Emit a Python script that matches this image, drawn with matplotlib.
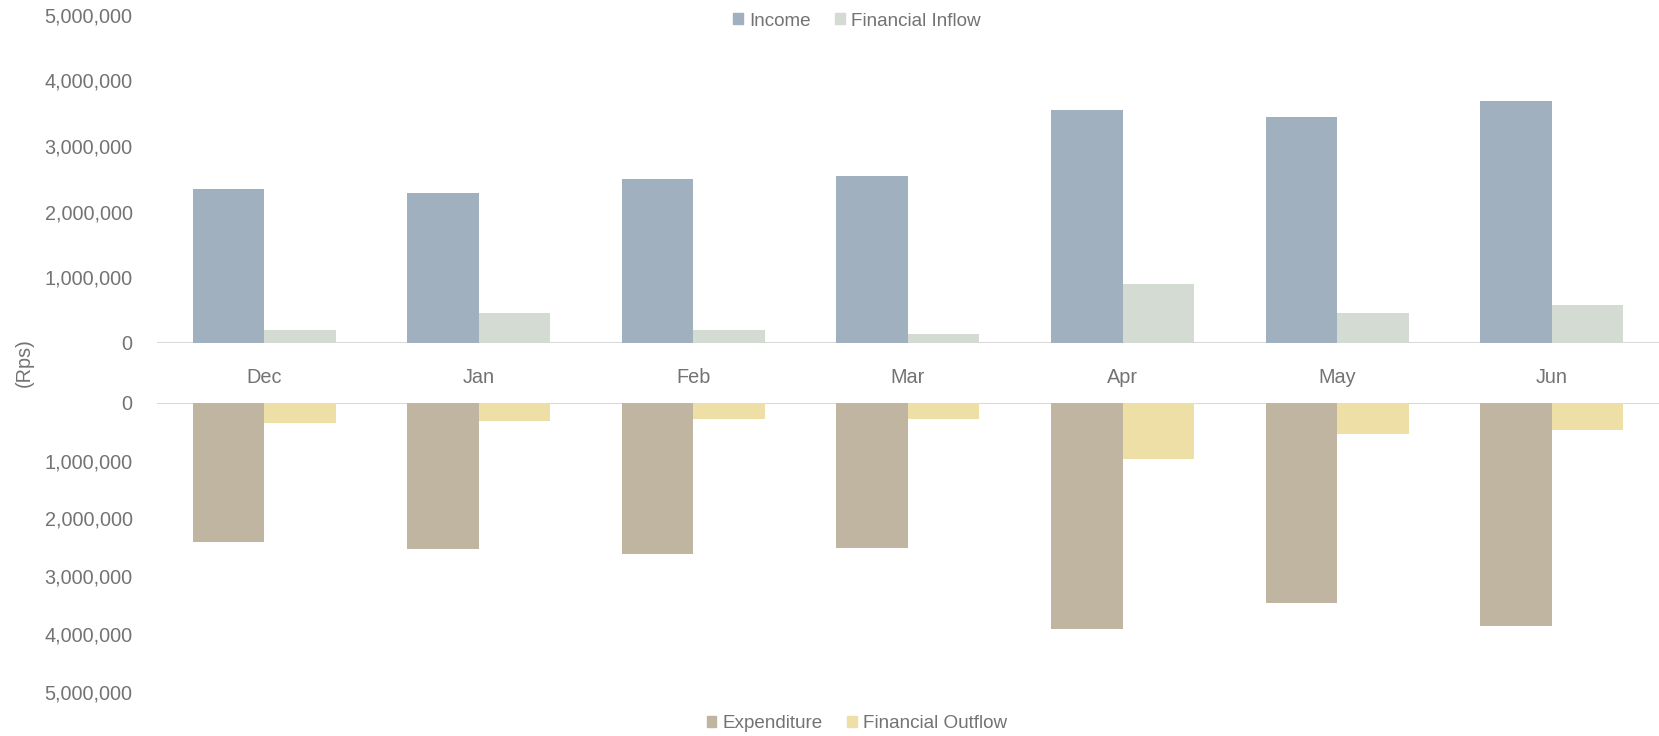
import matplotlib
matplotlib.use("Agg")
import matplotlib.pyplot as plt
from matplotlib.ticker import FuncFormatter
from matplotlib.patches import Patch
import numpy as np

months = ["Dec", "Jan", "Feb", "Mar", "Apr", "May", "Jun"]
income = [2350000, 2290000, 2500000, 2540000, 3550000, 3440000, 3680000]
financial_inflow = [200000, 460000, 190000, 140000, 890000, 460000, 570000]
expenditure = [2410000, 2530000, 2620000, 2510000, 3910000, 3460000, 3860000]
financial_outflow = [350000, 320000, 290000, 290000, 970000, 540000, 470000]
yticks = [0, 1000000, 2000000, 3000000, 4000000, 5000000]

c_income = "#A1B0BF"
c_inflow = "#D3DBD2"
c_exp = "#BFB5A1"
c_out = "#EDDFA6"
txt = "#737373"
line_c = "#d9d9d9"

plt.rcParams['font.family'] = ['Liberation Sans', 'DejaVu Sans']
fs = 14.3
fs_leg = 13.6

fig = plt.figure(figsize=(16.59, 7.36), dpi=100)
ax_top = fig.add_axes([0.0946, 0.5342, 0.9054, 0.4457])
ax_bot = fig.add_axes([0.0946, 0.0598, 0.9054, 0.3931])

x = np.arange(len(months))
w = 1 / 3

ax_top.bar(x - w / 2, income, width=w, color=c_income, label="Income")
ax_top.bar(x + w / 2, financial_inflow, width=w, color=c_inflow, label="Financial Inflow")
ax_bot.bar(x - w / 2, expenditure, width=w, color=c_exp, label="Expenditure")
ax_bot.bar(x + w / 2, financial_outflow, width=w, color=c_out, label="Financial Outflow")

fmt = FuncFormatter(lambda v, p: f"{int(v):,}")
for ax in (ax_top, ax_bot):
    ax.set_xlim(-0.5, len(months) - 0.5)
    ax.set_yticks(yticks)
    ax.yaxis.set_major_formatter(fmt)
    for s in ax.spines.values():
        s.set_visible(False)
    ax.axhline(0, color=line_c, lw=1.5, zorder=0)
    ax.tick_params(axis='y', length=0, pad=17.5, labelsize=fs, labelcolor=txt)
    ax.patch.set_alpha(0)

ax_top.set_ylim(0, 5000000)
ax_bot.set_ylim(5000000, 0)

ax_top.set_xticks(x)
ax_top.set_xticklabels(months)
ax_top.tick_params(axis='x', length=0, pad=18, labelsize=fs, labelcolor=txt)
ax_bot.set_xticks([])

fig.text(0.0145, 0.507, "(Rps)", rotation=90, ha='center', va='center', fontsize=fs, color=txt)

leg_kw = dict(ncol=2, frameon=False, fontsize=fs_leg, labelcolor=txt, handlelength=0.5,
              handleheight=0.5, handletextpad=0.35, columnspacing=1.3, borderpad=0, borderaxespad=0)
h_top = [Patch(color=c_income, label="Income"), Patch(color=c_inflow, label="Financial Inflow")]
fig.legend(handles=h_top, loc='center', bbox_to_anchor=(0.5166, 1 - 21 / 736), **leg_kw)
h_bot = [Patch(color=c_exp, label="Expenditure"), Patch(color=c_out, label="Financial Outflow")]
fig.legend(handles=h_bot, loc='center', bbox_to_anchor=(0.5166, 1 - 724 / 736), **leg_kw)

fig.savefig("out.png", dpi=100)
